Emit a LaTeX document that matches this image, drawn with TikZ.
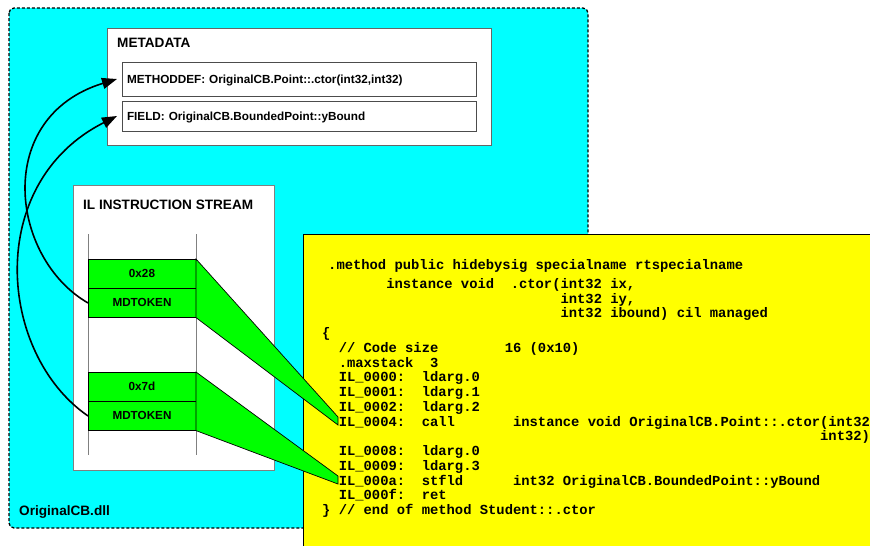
\documentclass[tikz,border=0pt]{standalone}
\usepackage{fontspec}
\setmainfont{Liberation Sans}
\newfontfamily\codefont{Liberation Mono}
\usetikzlibrary{arrows.meta,positioning}
\definecolor{dllcyan}{RGB}{0,255,255}
\definecolor{ilgreen}{RGB}{0,255,0}
\definecolor{codeyellow}{RGB}{255,255,0}
\newcommand{\codetab}[1]{\hskip#1\fontdimen2\font\relax}

\begin{document}
\begin{tikzpicture}[x=1pt,y=1pt,
  title/.style={font=\fontsize{13.6}{16}\selectfont\bfseries, inner sep=0pt, anchor=west},
  entry/.style={draw=black!70, fill=white, line width=1pt, anchor=north west, outer sep=0pt,
    inner xsep=5pt, inner ysep=0pt, text width=344pt, minimum height=#1, align=left,
    text height=8.4pt, text depth=0pt, font=\fontsize{11.75}{14}\selectfont\bfseries},
  cell/.style={draw=black, fill=ilgreen, line width=1pt, outer sep=0pt, inner sep=0pt,
    minimum width=108pt, minimum height=29.3pt, font=\fontsize{11.7}{14}\selectfont\bfseries},
  wedge/.style={draw=black, fill=ilgreen, line width=0.7pt},
  codetext/.style={anchor=base west, inner sep=0pt,
    font=\codefont\bfseries\fontsize{13.83}{14.75}\selectfont},
  tokenref/.style={line width=1.6pt, -{Triangle[length=15pt,width=11pt]}}]
\useasboundingbox (0,0) rectangle (870,-546);
\draw[fill=dllcyan, dash pattern=on 3pt off 2pt, line width=1.3pt, rounded corners=5pt] (9,-8) rectangle (588,-528);
\node[title, anchor=base west] (dll) at (19,-515.6) {OriginalCB.dll};
\draw[draw=black!60, fill=white, line width=1pt] (107,-28) rectangle (491,-145);
\node[title] (meta) at (117,-43) {METADATA};
\node[entry=34pt] (mdef) at (122,-62) {METHODDEF: OriginalCB.Point::.ctor(int32,int32)};
\node[entry=30pt] (fld) at (122,-101) {FIELD: OriginalCB.BoundedPoint::yBound};
\draw[draw=gray, fill=white, line width=1pt] (73,-185) rectangle (274,-470);
\node[title] (il) at (83,-205) {IL INSTRUCTION STREAM};
\draw[gray, line width=1pt] (88,-234) -- (88,-455) (196,-234) -- (196,-455);
\node[cell, anchor=north west] (hex1) at (88,-259) {0x28};
\node[cell, below=0pt of hex1] (tok1) {MDTOKEN};
\node[cell, anchor=north west] (hex2) at (88,-372) {0x7d};
\node[cell, below=0pt of hex2] (tok2) {MDTOKEN};
\draw[fill=codeyellow, line width=1pt] (303,-234) rectangle (880,-560);
\foreach \y/\txt [count=\i] in {
  269.7/{.method public hidebysig specialname rtspecialname},
  288.3/{\codetab{7}instance void~~.ctor(int32 ix,},
  303/{\codetab{28}int32 iy,},
  317.7/{\codetab{28}int32 ibound) cil managed}}
  \node[codetext] (head\i) at (328,-\y) {\txt};
\foreach \txt [count=\i from 0] in {
  \{,
  ~~// Code size\codetab{8}16 (0x10),
  ~~.maxstack~~3,
  ~~IL\_0000:~~ldarg.0,
  ~~IL\_0001:~~ldarg.1,
  ~~IL\_0002:~~ldarg.2,
  {~~IL\_0004:~~call\codetab{7}instance void OriginalCB.Point::.ctor(int32,},
  \codetab{60}int32),
  ~~IL\_0008:~~ldarg.0,
  ~~IL\_0009:~~ldarg.3,
  ~~IL\_000a:~~stfld\codetab{6}int32 OriginalCB.BoundedPoint::yBound,
  ~~IL\_000f:~~ret,
  \} // end of method Student::.ctor}
  \node[codetext] (body\i) at (322,{-337.7-14.75*\i}) {\txt};
\draw[wedge] (hex1.north east) -- (338,-417) -- (338,-425) -- (tok1.south east) -- cycle;
\draw[wedge] (hex2.north east) -- (338,-476) -- (338,-484) -- (tok2.south east) -- cycle;
\draw[tokenref] (tok1.west) .. controls +(-78,45) and +(-124,-38) .. ([xshift=-5pt]mdef.west);
\draw[tokenref] (tok2.west) .. controls +(-90,62) and +(-133,-67) .. ([xshift=-5pt]fld.west);
\end{tikzpicture}
\end{document}
